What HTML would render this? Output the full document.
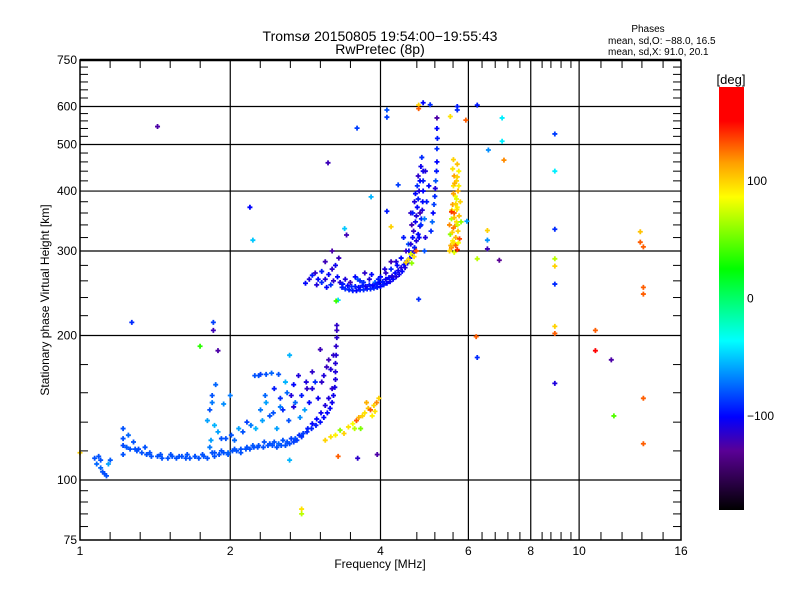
<!DOCTYPE html>
<html>
<head>
<meta charset="utf-8">
<style>
  html, body { margin: 0; padding: 0; background: #fff; }
  svg { display: block; }
  text { font-family: "Liberation Sans", "DejaVu Sans", sans-serif; fill: #000; }
</style>
</head>
<body>
<svg id="chart" width="800" height="600" viewBox="0 0 800 600" xmlns="http://www.w3.org/2000/svg">
  <defs>
    <linearGradient id="cmap" x1="0" y1="1" x2="0" y2="0">
      <stop offset="0" stop-color="#000000"/>
      <stop offset="0.14" stop-color="#5a0096"/>
      <stop offset="0.22" stop-color="#0000ff"/>
      <stop offset="0.40" stop-color="#00ffff"/>
      <stop offset="0.57" stop-color="#00ff00"/>
      <stop offset="0.74" stop-color="#ffff00"/>
      <stop offset="0.82" stop-color="#ffa000"/>
      <stop offset="0.92" stop-color="#ff0000"/>
      <stop offset="1" stop-color="#ff0000"/>
    </linearGradient>
  </defs>
  <text x="380" y="41" text-anchor="middle" font-size="14">Tromsø 20150805 19:54:00−19:55:43</text>
  <text x="380" y="54" text-anchor="middle" font-size="14">RwPretec (8p)</text>
  <text x="648" y="32" text-anchor="middle" font-size="10">Phases</text>
  <text x="608" y="44" font-size="10">mean, sd,O: −88.0, 16.5</text>
  <text x="608" y="55" font-size="10">mean, sd,X:  91.0, 20.1</text>
  <g id="grid"></g>
  <g id="ticks"></g>
  <g id="marks"></g>
  <rect x="80" y="60" width="601" height="480" fill="none" stroke="#000" stroke-width="1.5"/>
  <line x1="80" y1="60" x2="681" y2="60" stroke="#000" stroke-width="2.5"/>
  <text x="380" y="568" text-anchor="middle" font-size="12">Frequency [MHz]</text>
  <text transform="translate(49,300) rotate(-90)" text-anchor="middle" font-size="12">Stationary phase Virtual Height [km]</text>
  <rect x="719" y="87" width="25" height="423" fill="url(#cmap)"/>
  <text x="731" y="84" text-anchor="middle" font-size="13">[deg]</text>
  <g id="cbticks"></g>
</svg>
<script>
// ---------- axis data ----------
const xMajorTicks = [1, 2, 4, 6, 8, 10, 16];
const xMajorLabels = ["1", "2", "4", "6", "8", "10", "16"];
const xGridValues = [2, 4, 6, 8, 10];
const xMinorTicks = [1.149, 1.320, 1.516, 1.741, 2.297, 2.639, 3.031, 3.482, 4.73, 5.14, 5.59, 6.39, 6.79, 7.2, 7.61, 8.43, 8.78, 9.2, 9.63, 11.06, 12.19, 13.36, 14.73];
const yMajorTicks = [75, 100, 200, 300, 400, 500, 600, 750];
const yMajorLabels = ["75", "100", "200", "300", "400", "500", "600", "750"];
const yGridValues = [100, 200, 300, 400, 500, 600];
const yMinorTicks = [80, 85, 90, 95, 115, 132, 152, 174, 220, 240, 260, 280, 320, 340, 360, 380, 420, 440, 460, 480, 520, 540, 560, 580, 625, 650, 675, 700, 725];
const cbTickValues = [100, 0, -100];
const cbTickLabels = ["100", "0", "−100"];

// ---------- series data (frequency MHz, virtual height km, phase deg) ----------
const lowFreq = [1.08,1.09,1.10,1.10,1.11,1.12,1.13,1.14,1.15,1.07,
 1.22,1.22,1.22,1.24,1.26,1.29,1.31,1.33,1.36,1.39,
 1.43,1.46,1.50,1.53,1.56,1.60,1.63,1.66,1.70,1.73,
 1.77,1.80,1.82,1.83,1.84,1.86,1.90,1.94,1.98,2.02,
 2.06,2.10,2.15,2.19,2.23,2.27,2.33,2.38,2.43,2.48,
 2.53,2.58,2.63,2.68,2.72,2.78,2.85,2.91,2.97,3.03,
 3.08,3.13,3.17,3.20,3.22,3.24,3.25,3.25,3.25,3.26,
 3.26,3.27,3.27];
const lowHeight = [108,112,110,106,104,103,102,108,110,111,
 122,118,113,117,116,116,116,114,113,112,
 112,111,111,112,111,112,111,111,112,111,
 112,111,117,121,114,114,113,114,113,115,
 115,114,116,116,117,117,117,118,118,117,
 118,118,119,120,121,123,126,128,130,132,
 135,138,141,145,150,156,162,168,175,182,
 190,198,205];
const lowPhase = [-75,-80,-80,-75,-80,-82,-80,-60,-78,-80,
 -80,-82,-80,-78,-80,-80,-82,-80,-80,-80,
 -80,-80,-80,-80,-80,-80,-80,-80,-80,-80,
 -80,-80,-70,-60,-80,-80,-80,-80,-78,-80,
 -80,-80,-80,-80,-80,-80,-80,-80,-80,-80,
 -80,-80,-82,-85,-85,-88,-90,-92,-95,-98,
 -100,-100,-102,-105,-105,-108,-110,-110,-112,-112,
 -115,-115,-118];

const eDenseFreq = [1.45,1.52,1.58,1.64,1.70,1.76,
 1.86,1.92,1.98,2.04,2.10,2.16,2.22,2.28,2.34,2.40,
 2.45,2.50,2.55,2.60,2.65,2.70,2.75,2.80,2.86,2.92,
 2.98,3.04,3.10,3.15,3.20,
 2.30,2.36,2.44,2.52,2.60,2.68,2.76,2.84,2.92,
 1.22,1.25,1.28,1.30,1.35,1.38];
const eDenseHeight = [113,113,112,113,112,113,
 112,115,114,116,116,117,118,118,120,119,
 120,119,121,120,122,122,124,125,128,131,
 134,138,143,148,155,
 140,145,138,148,152,142,135,160,168,
 128,124,120,115,117,114];
const eDensePhase = [-80,-80,-80,-80,-80,-80,
 -80,-80,-75,-80,-80,-80,-78,-80,-80,-80,
 -80,-75,-80,-80,-85,-80,-90,-85,-95,-100,
 -100,-105,-110,-110,-115,
 -70,-60,-80,-90,-75,-110,-65,-110,-115,
 -80,-75,-80,-80,-80,-80];

const cloudFreq = [1.80,1.82,1.84,1.84,1.86,1.87,1.89,1.92,1.94,1.96,
 2.00,2.01,2.04,2.08,2.12,2.16,2.20,2.25,2.28,2.32,
 2.35,2.40,2.45,2.48,2.52,2.55,2.58,2.62,2.65,2.68,
 2.70,2.74,2.78,2.82,2.85,2.88,2.92,2.96,3.00,3.05,
 3.08,3.12,3.15,3.18,3.22, 2.24,2.30,2.36,2.42,2.50];
const cloudHeight = [133,140,145,150,130,158,126,122,144,122,
 150,124,121,128,126,132,130,128,165,133,
 150,136,155,128,142,140,160,133,150,158,
 145,165,150,140,155,145,155,160,148,160,
 165,172,178,170,182, 165,166,166,167,166];
const cloudPhase = [-60,-80,-70,-80,-55,-75,-60,-80,-65,-80,
 -70,-80,-75,-60,-80,-85,-70,-55,-80,-60,
 -75,-80,-95,-60,-70,-90,-55,-80,-110,-100,
 -75,-110,-95,-60,-115,-100,-110,-90,-105,-115,
 -110,-118,-120,-112,-115, -80,-85,-80,-75,-80];

const xLowFreq = [3.10,3.18,3.25,3.32,3.38,3.45,3.52,3.55,3.58,3.62,
 3.65,3.68,3.72,3.78,3.82,3.85,3.88,3.90,3.93,3.97, 3.29,3.60,3.94,3.75];
const xLowHeight = [121,123,124,127,125,129,131,128,133,135,
 128,136,138,141,140,136,143,139,145,148, 112,111,113,145];
const xLowPhase = [100,95,90,60,100,95,85,70,130,110,
 55,100,95,105,130,90,100,95,120,100, 130,-115,-125,110];

const fFreq = [2.83,2.88,2.92,2.96,3.00,3.05,3.10,3.15,3.20,3.25,
 3.30,3.05,2.98,3.12,3.18,3.22,3.28,3.32,3.10,3.20,
 3.35,3.40,3.46,3.52,3.58,3.64,3.70,3.76,3.82,3.88,
 3.94,4.00,4.06,4.12,4.18,4.24,4.30,4.36,4.42,4.48,
 4.53,4.58,4.63,4.68,4.72,4.76,4.80,4.83,4.85,4.86,
 4.87,4.87,4.87,3.60,3.70,3.80,3.90,4.00,4.10,4.20,
 4.30,4.40,4.50,4.45,4.55,4.60,4.70,4.78,4.82,4.80,
 5.05,5.08,5.10,5.12,5.14,5.15,5.16,5.18,5.19,5.19,
 5.20,5.19,4.90,4.95,5.00,4.92];
const fHeight = [257,262,267,270,262,258,262,268,275,280,
 290,272,255,252,255,260,265,258,285,300,
 252,250,249,248,248,249,249,250,250,251,
 252,253,255,257,259,262,265,268,272,277,
 283,290,297,305,315,325,338,350,365,380,
 400,420,440,262,258,262,258,265,270,275,
 285,290,300,320,310,360,300,320,340,360,
 330,345,360,375,390,405,420,440,460,490,
 515,540,350,380,410,440];
const fPhase = [-100,-110,-95,-115,-100,-90,-110,-100,-115,-105,
 -120,-95,-110,-100,-90,-115,-100,-110,-120,-125,
 -95,-90,-92,-95,-100,-95,-90,-95,-92,-90,
 -95,-100,-95,-100,-105,-100,-110,-105,-100,-110,
 -105,-100,-110,-95,-110,-100,-105,-90,-110,-100,
 -100,-95,-105,-80,-90,-110,-75,-100,-115,-90,
 -110,-100,-120,-95,-80,-115,-125,-100,-90,-120,
 -90,-75,-100,-85,-90,-110,-80,-95,-100,-90,
 -95,-100,-70,-95,-100,-110];

const fBandFreq = [3.36,3.44,3.50,3.56,3.62,3.68,3.74,3.80,3.86,3.92,
 3.98,4.04,4.10,4.16,4.22,4.28,4.34,4.40,4.46,4.52,
 3.40,3.48,3.56,3.64,3.72,3.84,3.96,4.08,4.20,4.32,
 4.56,4.60,4.64,4.66,4.70,4.72,4.74,4.76,4.78,4.80,
 4.62,4.64,4.68,4.70,4.74,4.76,4.82,4.84,4.90,4.92];
const fBandHeight = [256,254,253,253,252,254,253,255,254,256,
 258,259,262,264,266,270,273,277,281,286,
 262,258,265,260,270,268,262,275,285,280,
 300,310,320,330,345,355,370,385,400,420,
 340,360,380,395,410,430,450,470,300,320];
const fBandPhase = [-95,-100,-90,-95,-100,-95,-105,-95,-100,-95,
 -100,-95,-105,-100,-110,-100,-105,-110,-100,-105,
 -110,-120,-100,-90,-115,-100,-95,-110,-120,-100,
 -105,-110,-100,-115,-105,-110,-100,-95,-110,-100,
 -120,-95,-110,-100,-90,-115,-105,-90,-80,-110];

const fxFreq = [5.50,5.55,5.62,5.70,5.58,5.66,5.52,5.72,5.60,5.68,
 5.55,5.75,5.62,5.70,5.58,5.78,5.65,5.72,5.60,5.68,
 5.74,5.70,5.62,5.80,5.50,5.64,5.76,5.56,5.68,5.60,
 4.55,4.50,4.62,4.67,4.72,4.60,
 5.53,5.59,5.66,5.73,5.57,5.64,5.71,5.62,5.69,5.55,
 5.66,5.60,5.74,5.63,5.70,5.58];
const fxHeight = [300,305,298,302,315,320,325,330,335,345,
 350,355,360,370,375,380,390,400,410,420,
 440,455,430,345,340,310,318,365,385,465,
 288,284,283,292,300,296,
 308,312,308,312,328,338,340,352,366,362,
 376,395,410,415,428,445];
const fxPhase = [100,120,80,140,90,110,60,100,125,95,
 70,105,130,90,115,100,85,110,95,100,
 90,105,115,60,120,100,135,90,80,100,
 95,100,60,95,130,80,
 110,95,130,85,100,120,75,105,95,140,
 100,115,90,110,100,95];

const scatterFreq = [1.43,2.19,2.22,1.27,1.85,1.85,1.74,1.89,2.63,3.03,
 2.78,2.78,3.27,3.29,2.63,1.00,4.77,4.77,5.03,4.87,
 5.70,5.70,4.12,4.12,5.19,5.52,5.93,3.59,3.14,4.34,
 3.83,4.12,4.20,3.39,3.42,3.26,4.77,6.25,7.01,7.01,
 6.58,7.07,8.94,8.94,5.96,6.55,6.55,6.55,6.25,6.92,
 8.94,13.26,13.26,13.45,8.94,8.94,8.94,13.45,13.45,8.94,
 8.94,10.78,6.22,6.25,10.78,11.60,8.94,13.45,11.74,13.45];
const scatterHeight = [545,370,316,213,213,205,190,186,182,187,
 87,85,210,237,110,114,604,594,605,611,
 600,590,590,570,568,572,562,541,458,412,
 389,363,337,334,324,236,238,604,568,508,
 487,464,526,440,346,331,316,303,289,287,
 333,329,313,306,289,279,256,252,244,209,
 202,205,199,180,186,178,159,148,136,119];
const scatterPhase = [-125,-100,-50,-90,-85,-120,35,-125,-55,-120,
 95,70,-115,-45,-55,100,100,130,-90,-100,
 -95,-90,-80,-85,-125,95,130,-85,-120,-85,
 -55,-95,100,-50,-120,40,-90,-95,-40,-40,
 -65,120,-85,-40,-60,100,-65,-120,70,-130,
 -90,105,130,130,70,100,-90,130,130,100,
 130,130,130,-90,155,-125,-110,130,45,130];

// ---------- scales ----------
const NS = "http://www.w3.org/2000/svg";
function xScale(f) { return 80 + 150.25 * Math.log2(f); }
function yScale(h) { return 540 - 480 * Math.log10(h / 75); }
function cbScale(p) { return 510 - (p + 180) / 360 * 423; }

const cmapStops = [[0,0,0,0],[0.14,90,0,150],[0.22,0,0,255],[0.40,0,255,255],[0.57,0,255,0],[0.74,255,255,0],[0.82,255,160,0],[0.92,255,0,0],[1,255,0,0]];
function phaseColor(p) {
  let t = Math.max(0, Math.min(1, (p + 180) / 360));
  for (let i = 1; i < cmapStops.length; i++) {
    const a = cmapStops[i - 1], b = cmapStops[i];
    if (t <= b[0]) {
      const u = (t - a[0]) / (b[0] - a[0] || 1);
      const c = [1, 2, 3].map(k => Math.round(a[k] + (b[k] - a[k]) * u));
      return "rgb(" + c.join(",") + ")";
    }
  }
  return "rgb(255,0,0)";
}

const grid = document.getElementById("grid");
const ticks = document.getElementById("ticks");
const marks = document.getElementById("marks");
const cbticks = document.getElementById("cbticks");

function mkLine(parent, x1, y1, x2, y2, w) {
  const l = document.createElementNS(NS, "line");
  l.setAttribute("x1", x1); l.setAttribute("y1", y1);
  l.setAttribute("x2", x2); l.setAttribute("y2", y2);
  l.setAttribute("stroke", "#000"); l.setAttribute("stroke-width", w);
  parent.appendChild(l);
  return l;
}
function mkText(parent, x, y, s, anchor, size) {
  const t = document.createElementNS(NS, "text");
  t.setAttribute("x", x); t.setAttribute("y", y);
  t.setAttribute("text-anchor", anchor); t.setAttribute("font-size", size);
  t.textContent = s;
  parent.appendChild(t);
  return t;
}

xGridValues.forEach(v => {
  const l = mkLine(grid, xScale(v), 60, xScale(v), 540, 1.2);
  
  
});
yGridValues.forEach(v => {
  const l = mkLine(grid, 80, yScale(v), 681, yScale(v), 1.2);
  
  
});

xMinorTicks.forEach(v => {
  const x = xScale(v);
  const a = mkLine(ticks, x, 540, x, 532, 1);
  
  
  const b = mkLine(ticks, x, 60, x, 68, 1);
  
  
});
yMinorTicks.forEach(v => {
  const y = yScale(v);
  const a = mkLine(ticks, 80, y, 88, y, 1);
  
  
  const b = mkLine(ticks, 673, y, 681, y, 1);
  
  
});

xMajorTicks.forEach((v, i) => {
  const t = mkText(ticks, xScale(v), 555, xMajorLabels[i], "middle", 12);
  
  
});
yMajorTicks.forEach((v, i) => {
  const t = mkText(ticks, 77, yScale(v) + 4, yMajorLabels[i], "end", 12);
  
  
});
cbTickValues.forEach((v, i) => {
  const t = mkText(cbticks, 747, cbScale(v) + 4, cbTickLabels[i], "start", 12);
  
  
});

function drawSeries(fs, hs, ps, name) {
  const n = Math.min(fs.length, hs.length, ps.length);
  for (let i = 0; i < n; i++) {
    const x = xScale(fs[i]), y = yScale(hs[i]);
    if (x < 80 || x > 681 || y < 60 || y > 540) continue;
    const p = document.createElementNS(NS, "path");
    p.setAttribute("d", "M" + (x - 2.5) + " " + y + "h5M" + x + " " + (y - 2.5) + "v5");
    p.setAttribute("stroke", phaseColor(ps[i]));
    p.setAttribute("stroke-width", "1.8");
    p.setAttribute("fill", "none");
    
    
    marks.appendChild(p);
  }
}
drawSeries(cloudFreq, cloudHeight, cloudPhase, "e-cloud-point");
drawSeries(eDenseFreq, eDenseHeight, eDensePhase, "e-dense-point");
drawSeries(lowFreq, lowHeight, lowPhase, "e-trace-point");
drawSeries(xLowFreq, xLowHeight, xLowPhase, "e-x-trace-point");
drawSeries(fFreq, fHeight, fPhase, "f-trace-point");
drawSeries(fBandFreq, fBandHeight, fBandPhase, "f-band-point");
drawSeries(fxFreq, fxHeight, fxPhase, "f-x-trace-point");
drawSeries(scatterFreq, scatterHeight, scatterPhase, "scatter-point");
</script>
</body>
</html>
